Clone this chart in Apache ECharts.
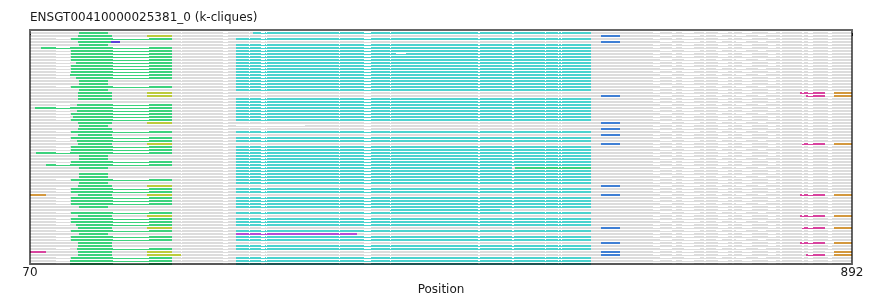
<!DOCTYPE html>
<html><head><meta charset="utf-8">
<script src="https://cdn.jsdelivr.net/npm/echarts@6/dist/echarts.min.js"></script>
<style>html,body{margin:0;padding:0;background:#fff}#c{width:882px;height:294px}</style>
</head><body><div id="c"></div>
<script>
// ---------------- data ----------------
const chartTitle = 'ENSGT00410000025381_0 (k-cliques)';
const xAxisName = 'Position';
const posMin = 70, posMax = 892;
const xTickValues = [70, 892];
const rowCount = 78;

// alignment gaps shared by all sequences (drawn as a thin line)
const sharedGaps = [[221,222],[263,268],[289,290],[301,305],[306,307],[379,380],[404,411],[430,431],
  [518,520],[552,554],[585,586],[598,599],[601,602],[744,746],[772,774],[820,822],[842,844],[848,853],[868,872]];
// gaps in the right part, two variants seen in the rows
const rightGapsA = [[693,700],[712,716],[722,734],[758,768],[782,792],[808,816]];
const rightGapsB = [[700,712],[724,740],[756,762],[776,786],[798,806]];
const rightGapsBRows = [1,3,6,9,12,14,18,21,24,27,30,33,36,39,42,45,48,51,54,57,60,63,66,69,72,75];
// extra gaps of the sequences that carry the long green clique
const longRowGaps = [[96,110],[153,189]];
// other per-row gaps: [row, start, end]
const extraGaps = [[7,436,446],[31,276,345],[20,865,874],[21,865,874],[37,865,874],[54,865,874],
  [61,865,874],[65,865,874],[70,865,874],[73,865,874],[74,865,874]];

// green clique, long form: [row, start]  (ends at 212)
const greenLong = [[2,111],[5,111],[6,111],[7,111],[8,111],[9,111],[10,116],[11,111],[12,111],[13,111],
  [14,110],[15,116],[18,111],[24,117],[25,111],[26,117],[27,111],[28,113],[29,111],[33,111],[35,111],
  [36,117],[38,111],[39,111],[40,111],[43,111],[44,111],[49,111],[52,111],[53,111],[55,111],[56,111],
  [57,111],[60,111],[62,111],[63,111],[64,116],[66,111],[68,111],[69,111],[72,117],[75,111],[76,110],[77,110]];
const greenLongEnd = 212;
const greenLeftExt = [[5,81],[25,75],[40,76],[44,86]];
const greenShortRows = [0,4,16,17,19,31,41,42,45,47,48,50,58,67];
const greenShortSpan = [119,148];
const greenMedRows = [1,3,20,21,22,30,32,34,37,51,54,61,65,70,71,73,74];
const greenMedSpan = [118,152];
const greenRightSegs = [[45,555,631]];
const purpleSegs = [[3,151,160]];
const yellowSegs = [[1,187,212],[20,187,212],[21,187,212],[30,187,212],[37,187,212],[51,187,212],
  [54,187,212],[61,187,212],[65,187,212],[73,187,212],[74,187,221]];
const cyanRows = [2,4,5,6,7,8,9,10,11,12,13,14,15,16,17,18,19,22,23,24,25,26,27,28,29,33,35,36,38,39,40,
  41,42,43,44,46,47,48,49,50,52,53,55,56,57,58,60,62,63,64,66,68,69,71,72,75,76,77];
const cyanSpan = [276,631];
const cyanSpecial = [[0,293,631],[45,276,552],[59,430,540]];
const violetSegs = [[67,276,397]];
const blueRows = [1,3,21,30,32,34,37,51,54,65,70,73,74];
const blueSpan = [641,660];
const magentaSegs = [[20,840,865],[21,846,865],[37,842,865],[54,840,865],[61,840,865],[65,842,865],
  [70,840,865],[74,846,865],[73,70,86]];
const orangeRows = [20,21,37,54,61,65,70,73,74];
const orangeSpan = [874,892];
const orangeLeftSegs = [[54,70,86]];

// ---------------- styles ----------------
const palette = ['#dcdcdc','#3cd27c','#bccb3c','#5b3fd8','#4bd3cf','#3f7fd4','#d8449e','#d3983e','#b44cd6'];
const GRAY=0,GREEN=1,YELLOW=2,PURPLE=3,CYAN=4,BLUE=5,MAGENTA=6,ORANGE=7,VIOLET=8;

// ---------------- build drawing table ----------------
const longMap = new Map(greenLong.map(d => [d[0], d[1]]));
const extMap = new Map(greenLeftExt.map(d => [d[0], d[1]]));
const bSet = new Set(rightGapsBRows);
function merge(list) {
  const s = list.slice().sort((a,b)=>a[0]-b[0]); const out=[];
  s.forEach(g => { if (out.length && g[0] <= out[out.length-1][1]) out[out.length-1][1] = Math.max(out[out.length-1][1], g[1]); else out.push([g[0],g[1]]); });
  return out;
}
function residues(r) {
  let g = sharedGaps.concat(bSet.has(r) ? rightGapsB : rightGapsA);
  if (longMap.has(r)) g = g.concat(longRowGaps);
  extraGaps.forEach(e => { if (e[0] === r) g.push([e[1], e[2]]); });
  g = merge(g);
  const res = []; let cur = posMin;
  g.forEach(([a,b]) => { if (a > cur) res.push([cur, a]); cur = Math.max(cur, b); });
  if (cur < posMax) res.push([cur, posMax]);
  return res;
}
const domains = [];
greenLong.forEach(([r,s]) => domains.push([r, extMap.has(r) ? extMap.get(r) : s, greenLongEnd, GREEN]));
greenShortRows.forEach(r => domains.push([r, greenShortSpan[0], greenShortSpan[1], GREEN]));
greenMedRows.forEach(r => domains.push([r, greenMedSpan[0], greenMedSpan[1], GREEN]));
greenRightSegs.forEach(d => domains.push([d[0], d[1], d[2], GREEN]));
purpleSegs.forEach(d => domains.push([d[0], d[1], d[2], PURPLE]));
yellowSegs.forEach(d => domains.push([d[0], d[1], d[2], YELLOW]));
cyanRows.forEach(r => domains.push([r, cyanSpan[0], cyanSpan[1], CYAN]));
cyanSpecial.forEach(d => domains.push([d[0], d[1], d[2], CYAN]));
violetSegs.forEach(d => domains.push([d[0], d[1], d[2], VIOLET]));
blueRows.forEach(r => domains.push([r, blueSpan[0], blueSpan[1], BLUE]));
magentaSegs.forEach(d => domains.push([d[0], d[1], d[2], MAGENTA]));
orangeRows.forEach(r => domains.push([r, orangeSpan[0], orangeSpan[1], ORANGE]));
orangeLeftSegs.forEach(d => domains.push([d[0], d[1], d[2], ORANGE]));

const THIN = 0, THICK = 1;
const items = [];
const resByRow = [];
for (let r = 0; r < rowCount; r++) {
  const res = residues(r); resByRow.push(res);
  items.push([posMin, posMax, r, THIN, GRAY]);
  res.forEach(([a,b]) => items.push([a, b, r, THICK, GRAY]));
}
domains.forEach(([r,s,e,c]) => {
  items.push([s, e, r, THIN, c]);
  resByRow[r].forEach(([a,b]) => { const x0 = Math.max(a,s), x1 = Math.min(b,e); if (x1 > x0) items.push([x0, x1, r, THICK, c]); });
});

// ---------------- chart ----------------
const chart = echarts.init(document.getElementById('c'), null, {renderer:'canvas'});
chart.setOption({
  animation: false,
  backgroundColor: '#fff',
  title: { text: chartTitle, left: 30, top: 12, padding: 0, textStyle: { fontFamily: 'DejaVu Sans', fontSize: 12, fontWeight: 'normal', color: '#1a1a1a' } },
  grid: { left: 30, right: 30, top: 30, bottom: 30, outerBoundsMode: 'none', containLabel: false, show: true, z: 10, borderColor: 'rgba(0,0,0,0.6)', borderWidth: 2, backgroundColor: 'transparent' },
  xAxis: {
    type: 'value', min: posMin, max: posMax,
    name: xAxisName, nameLocation: 'middle', nameGap: 14,
    nameTextStyle: { fontFamily: 'DejaVu Sans', fontSize: 12, color: '#1a1a1a' },
    axisLine: { show: false },
    axisTick: { show: true, length: 3, customValues: xTickValues, lineStyle: { color: '#333' } },
    axisLabel: { customValues: xTickValues, margin: 3, fontFamily: 'DejaVu Sans', fontSize: 12, color: '#1a1a1a' },
    splitLine: { show: false }
  },
  yAxis: { type: 'value', min: -1, max: rowCount - 1, inverse: true, show: false, splitLine: { show: false } },
  series: [{
    type: 'custom', silent: true,
    encode: { x: [0, 1], y: 2 },
    data: items,
    renderItem: function (params, api) {
      const x0 = api.value(0), x1 = api.value(1), r = api.value(2), kind = api.value(3), c = api.value(4);
      const p0 = api.coord([x0, r]), p1 = api.coord([x1, r]);
      const cy = p0[1];
      let y, h;
      if (kind === THICK) { y = Math.round(cy - 1); h = 2; } else { y = Math.round(cy - 0.5); h = 1; }
      return { type: 'rect', shape: { x: p0[0], y: y, width: Math.max(p1[0] - p0[0], 0.5), height: h }, style: { fill: palette[c] } };
    }
  }]
});
</script></body></html>
